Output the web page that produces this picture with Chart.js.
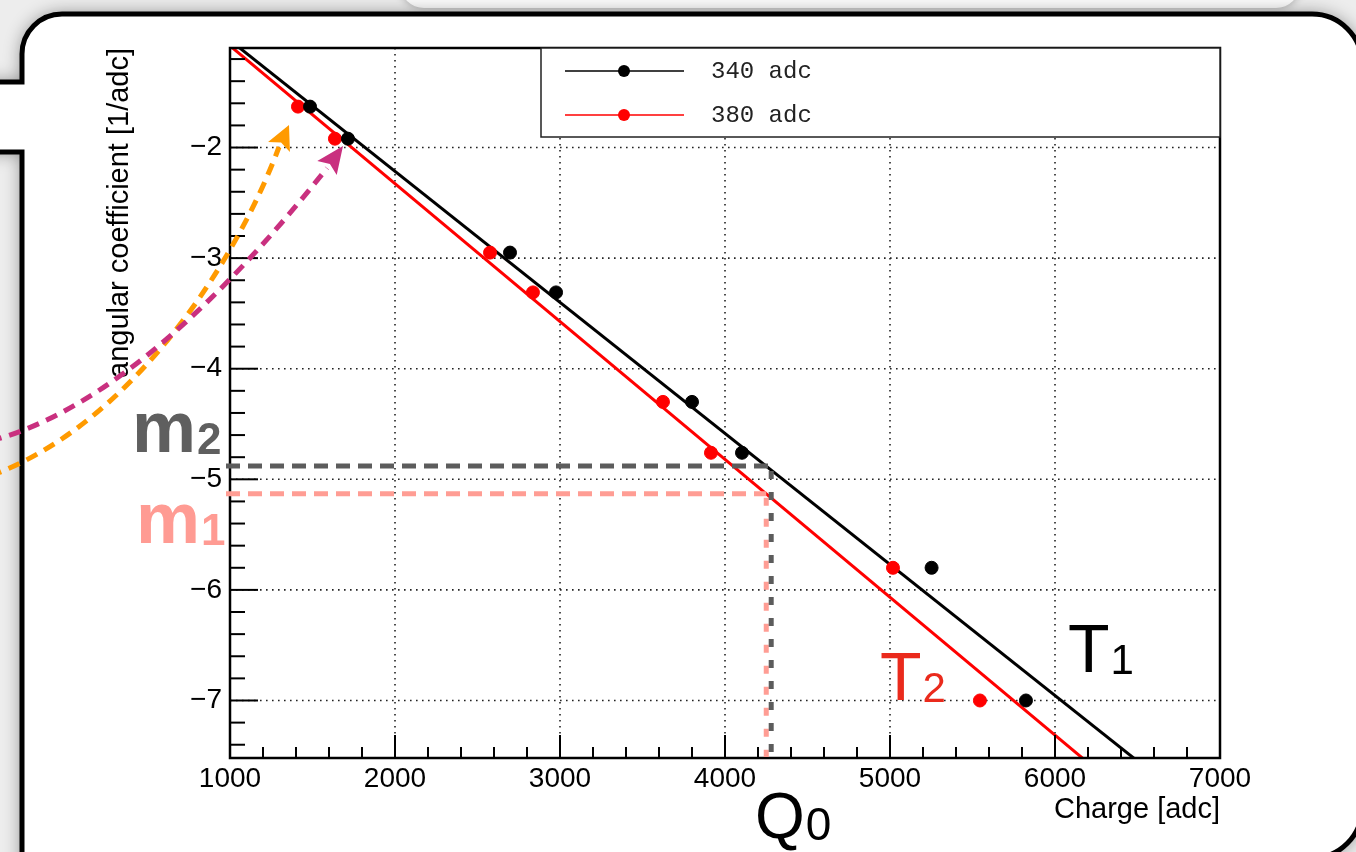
<!DOCTYPE html>
<html>
<head>
<meta charset="utf-8">
<title>angular coefficient vs charge</title>
<script src="https://cdn.jsdelivr.net/npm/chart.js@4.4.1/dist/chart.umd.min.js"></script>
<style>
  html, body { margin: 0; padding: 0; background: #ececec; overflow: hidden; }
  canvas { display: block; }
</style>
</head>
<body>
<canvas id="chart" width="1356" height="852"></canvas>
<script>
const charge340 = [1485, 1715, 2697, 2976, 3800, 4103, 5252, 5824];
const coeff340  = [-1.63, -1.92, -2.95, -3.31, -4.30, -4.76, -5.80, -7.00];
const charge380 = [1412, 1636, 2576, 2836, 3624, 3915, 5018, 5545];
const coeff380  = [-1.63, -1.92, -2.95, -3.31, -4.30, -4.76, -5.80, -7.00];

// straight-line fits (value at the two ends of the x range)
const fitCharge = [1000, 7000];
const fit340 = [-1.03, -8.14];
const fit380 = [-1.08, -8.56];

const xTicks = [1000, 2000, 3000, 4000, 5000, 6000, 7000];
const yTicks = [-7, -6, -5, -4, -3, -2];
const seriesNames = ['340 adc', '380 adc'];

// Q0 and the two slopes read at Q0
const q0Gray = 4280, q0Pink = 4250;
const m2 = -4.88, m1 = -5.13;

const FONT = "'Liberation Sans', Arial, Helvetica, sans-serif";
const MONO = "'Liberation Mono', 'Courier New', monospace";

function pts(xs, ys) {
    return xs.map((x, i) => ({x: x, y: ys[i]}));
}

// page + speech bubble behind the plot
const bubble = {
    id: 'bubble',
    beforeDraw(chart) {
        const ctx = chart.ctx;
        ctx.save();
        ctx.fillStyle = '#ededed';
        ctx.fillRect(0, 0, chart.width, chart.height);

        // card peeking out at the top
        ctx.shadowColor = 'rgba(0,0,0,0.3)';
        ctx.shadowBlur = 8;
        ctx.fillStyle = '#fbfbfb';
        ctx.beginPath();
        ctx.roundRect(400, -60, 900, 68, 24);
        ctx.fill();

        const L = 22, T = 14, R = 1362, B = 858, r = 50, rl = 40;
        ctx.beginPath();
        ctx.moveTo(L + rl, T);
        ctx.lineTo(R - r, T);
        ctx.arcTo(R, T, R, T + r, r);
        ctx.lineTo(R, B - r);
        ctx.arcTo(R, B, R - r, B, r);
        ctx.lineTo(L, B + 20);
        ctx.lineTo(L, 152);
        ctx.lineTo(-20, 152);
        ctx.lineTo(-20, 82);
        ctx.lineTo(L, 82);
        ctx.lineTo(L, T + rl);
        ctx.arcTo(L, T, L + rl, T, rl);
        ctx.closePath();
        ctx.shadowColor = 'rgba(0,0,0,0.45)';
        ctx.shadowBlur = 18;
        ctx.fillStyle = '#fff';
        ctx.fill();
        ctx.shadowColor = 'transparent';
        ctx.lineWidth = 5;
        ctx.strokeStyle = '#000';
        ctx.stroke();
        ctx.restore();
    }
};

// ROOT style frame: dotted grid, inside ticks, legend box
const rootFrame = {
    id: 'rootFrame',
    beforeDatasetsDraw(chart) {
        const {ctx, chartArea: a, scales: {x, y}} = chart;
        ctx.save();
        ctx.strokeStyle = '#222';
        ctx.lineWidth = 1.6;
        ctx.setLineDash([1.6, 4.4]);
        for (const v of xTicks) {
            const px = x.getPixelForValue(v);
            if (px <= a.left + 1 || px >= a.right - 1) continue;
            ctx.beginPath();
            ctx.moveTo(px, a.top);
            ctx.lineTo(px, a.bottom);
            ctx.stroke();
        }
        for (const v of yTicks) {
            const py = y.getPixelForValue(v);
            ctx.beginPath();
            ctx.moveTo(a.left, py);
            ctx.lineTo(a.right, py);
            ctx.stroke();
        }
        ctx.restore();
    },
    afterDatasetsDraw(chart) {
        const {ctx, chartArea: a, scales: {x, y}} = chart;
        ctx.save();
        ctx.strokeStyle = '#000';
        ctx.lineWidth = 2;
        // x ticks, every 200
        for (let v = 1200; v < 7000; v += 200) {
            const px = x.getPixelForValue(v);
            const len = v % 1000 === 0 ? 23 : 11;
            ctx.beginPath();
            ctx.moveTo(px, a.bottom);
            ctx.lineTo(px, a.bottom - len);
            ctx.stroke();
        }
        // y ticks, every 0.2
        for (let k = -74; k <= -12; k += 2) {
            const py = y.getPixelForValue(k / 10);
            const len = k % 10 === 0 ? 28 : 15;
            ctx.beginPath();
            ctx.moveTo(a.left, py);
            ctx.lineTo(a.left + len, py);
            ctx.stroke();
        }
        ctx.lineWidth = 2.5;
        ctx.strokeRect(a.left, a.top, a.right - a.left, a.bottom - a.top);

        // legend
        const lx = 541, ly = 48, lw = a.right - 541, lh = 89;
        ctx.fillStyle = '#fff';
        ctx.fillRect(lx, ly, lw, lh);
        ctx.lineWidth = 1.5;
        ctx.strokeStyle = '#222';
        ctx.strokeRect(lx, ly, lw, lh);
        const rows = [71, 115];
        chart.data.datasets.slice(0, 2).forEach((ds, i) => {
            const ry = rows[i];
            ctx.strokeStyle = ds.backgroundColor;
            ctx.lineWidth = 1.5;
            ctx.beginPath();
            ctx.moveTo(565, ry);
            ctx.lineTo(684, ry);
            ctx.stroke();
            ctx.fillStyle = ds.backgroundColor;
            ctx.beginPath();
            ctx.arc(624, ry, 6, 0, Math.PI * 2);
            ctx.fill();
            ctx.fillStyle = '#222';
            ctx.font = '24px ' + MONO;
            ctx.textBaseline = 'middle';
            ctx.fillText(ds.label, 711, ry + 1);
        });
        ctx.restore();
    }
};

function dashedCurve(ctx, p, color) {
    ctx.strokeStyle = color;
    ctx.lineWidth = 5;
    ctx.setLineDash([12, 8]);
    ctx.beginPath();
    ctx.moveTo(p[0][0], p[0][1]);
    ctx.bezierCurveTo(p[1][0], p[1][1], p[2][0], p[2][1], p[3][0], p[3][1]);
    ctx.stroke();
    ctx.setLineDash([]);
}

function arrowHead(ctx, base, tip, half, color) {
    const dx = tip[0] - base[0], dy = tip[1] - base[1];
    const len = Math.hypot(dx, dy);
    const ux = dx / len, uy = dy / len;
    ctx.fillStyle = color;
    ctx.beginPath();
    ctx.moveTo(tip[0], tip[1]);
    ctx.lineTo(base[0] - uy * half, base[1] + ux * half);
    ctx.lineTo(base[0] + ux * 5, base[1] + uy * 5);
    ctx.lineTo(base[0] + uy * half, base[1] - ux * half);
    ctx.closePath();
    ctx.fill();
}

function subText(ctx, main, sub, x, yb, size, subSize, weight, color) {
    ctx.fillStyle = color;
    ctx.textBaseline = 'alphabetic';
    ctx.textAlign = 'left';
    ctx.font = weight + ' ' + size + 'px ' + FONT;
    ctx.fillText(main, x, yb);
    const w = ctx.measureText(main).width;
    ctx.font = weight + ' ' + subSize + 'px ' + FONT;
    ctx.fillText(sub, x + w + 1, yb + 2);
}

// the hand-made annotations on top
const notes = {
    id: 'notes',
    afterDraw(chart) {
        const {ctx, chartArea: a, scales: {x, y}} = chart;
        ctx.save();
        ctx.lineCap = 'butt';

        const gx = x.getPixelForValue(q0Gray), px = x.getPixelForValue(q0Pink);
        const gy = y.getPixelForValue(m2), py = y.getPixelForValue(m1);
        ctx.lineWidth = 5;
        ctx.strokeStyle = '#ff9d94';
        ctx.setLineDash([14, 8]);
        ctx.beginPath(); ctx.moveTo(a.left - 4, py); ctx.lineTo(px, py); ctx.stroke();
        ctx.setLineDash([8, 13]);
        ctx.beginPath(); ctx.moveTo(px, py + 4); ctx.lineTo(px, a.bottom - 1); ctx.stroke();
        ctx.strokeStyle = '#5c5c5c';
        ctx.setLineDash([14, 8]);
        ctx.beginPath(); ctx.moveTo(a.left - 4, gy); ctx.lineTo(gx + 2, gy); ctx.stroke();
        ctx.setLineDash([8, 13]);
        ctx.beginPath(); ctx.moveTo(gx, gy + 5); ctx.lineTo(gx, a.bottom - 4); ctx.stroke();
        ctx.setLineDash([]);

        // arrows pointing at the first points
        dashedCurve(ctx, [[-10, 476], [130, 425], [235, 265], [279, 147]], '#ff9a00');
        arrowHead(ctx, [279, 147], [289, 125], 12, '#ff9a00');
        dashedCurve(ctx, [[-10, 441], [110, 410], [230, 290], [327, 168]], '#c9307f');
        arrowHead(ctx, [327, 168], [343, 146], 12, '#c9307f');

        subText(ctx, 'm', '2', 132, 452, 72, 44, 'bold', '#5f5f5f');
        subText(ctx, 'm', '1', 136, 543, 72, 44, 'bold', '#ff9b93');
        subText(ctx, 'Q', '0', 755, 838, 64, 46, 'normal', '#000');
        subText(ctx, 'T', '1', 1068, 672, 68, 42, 'normal', '#000');
        subText(ctx, 'T', '2', 880, 700, 68, 42, 'normal', '#ea2a1c');
        ctx.restore();
    }
};

const config = {
    type: 'scatter',
    data: {
        datasets: [{
            label: seriesNames[0],
            data: pts(charge340, coeff340),
            backgroundColor: '#000',
            borderColor: '#000',
            pointRadius: 6.5,
            pointHoverRadius: 6.5,
            order: 0
        }, {
            label: seriesNames[1],
            data: pts(charge380, coeff380),
            backgroundColor: '#ff0000',
            borderColor: '#ff0000',
            pointRadius: 6.5,
            pointHoverRadius: 6.5,
            order: 0
        }, {
            label: 'fit 340',
            data: pts(fitCharge, fit340),
            showLine: true,
            borderColor: '#000',
            borderWidth: 3,
            pointRadius: 0,
            order: 1
        }, {
            label: 'fit 380',
            data: pts(fitCharge, fit380),
            showLine: true,
            borderColor: '#ff0000',
            borderWidth: 3,
            pointRadius: 0,
            order: 1
        }]
    },
    options: {
        responsive: false,
        animation: false,
        devicePixelRatio: 1,
        layout: {padding: {left: 100, top: 48, right: 136, bottom: 0}},
        plugins: {legend: {display: false}, tooltip: {enabled: false}},
        scales: {
            x: {
                type: 'linear',
                min: 1000,
                max: 7000,
                grid: {display: false, drawTicks: false},
                border: {display: false},
                afterBuildTicks: s => { s.ticks = xTicks.map(v => ({value: v})); },
                afterFit: s => { s.height = 94; },
                ticks: {
                    autoSkip: false,
                    maxRotation: 0,
                    padding: 4,
                    color: '#000',
                    font: {family: FONT, size: 28},
                    callback: v => String(v)
                },
                title: {
                    display: true,
                    text: 'Charge [adc]',
                    align: 'end',
                    color: '#000',
                    font: {family: FONT, size: 29},
                    padding: {top: 0, bottom: 25}
                }
            },
            y: {
                type: 'linear',
                min: -7.52,
                max: -1.1,
                grid: {display: false, drawTicks: false},
                border: {display: false},
                afterBuildTicks: s => { s.ticks = yTicks.map(v => ({value: v})); },
                afterFit: s => { s.width = 130; },
                ticks: {
                    autoSkip: false,
                    padding: 8,
                    color: '#000',
                    font: {family: FONT, size: 28},
                    callback: v => '\u2212' + Math.abs(v)
                },
                title: {
                    display: true,
                    text: 'angular coefficient [1/adc]',
                    align: 'end',
                    color: '#000',
                    font: {family: FONT, size: 29},
                    padding: {top: 3, bottom: 0}
                }
            }
        }
    },
    plugins: [bubble, rootFrame, notes]
};

new Chart(document.getElementById('chart'), config);
</script>
</body>
</html>
